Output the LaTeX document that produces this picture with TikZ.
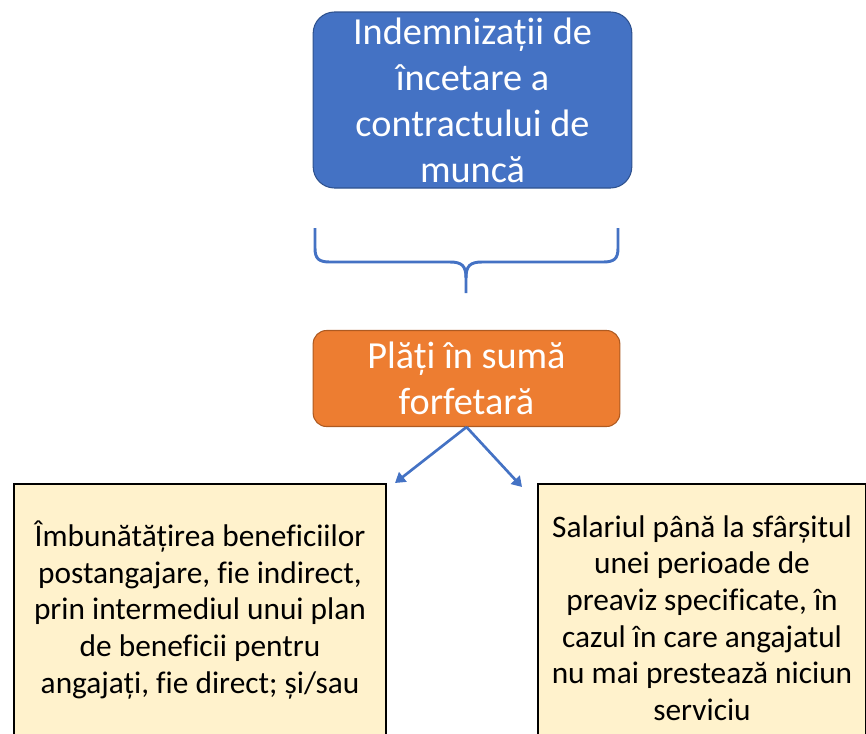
\documentclass[tikz,border=0pt]{standalone}
\usepackage{fontspec}
\setmainfont[Ligatures=NoCommon]{Carlito}
\usetikzlibrary{arrows.meta,positioning}
\definecolor{boxblue}{HTML}{4472C4}
\definecolor{boxblueline}{HTML}{2F528F}
\definecolor{boxorange}{HTML}{ED7D31}
\definecolor{boxorangeline}{HTML}{AE5A21}
\definecolor{boxcream}{HTML}{FFF2CC}

\begin{document}
\begin{tikzpicture}[x=0.75pt,y=-0.75pt,>={Triangle[width=9pt,length=7.5pt]},
  topbox/.style={draw,rounded corners=16pt,align=center,text=white,font=\fontsize{28.7}{34.5}\selectfont,line width=0.8pt},
  leafbox/.style={draw,line width=1.5pt,fill=boxcream,align=center,font=\fontsize{23.5}{27.4}\selectfont},
  link/.style={->,draw=boxblue,line width=2pt}]
\useasboundingbox (0,0) rectangle (866,733);
\clip (0,0) rectangle (866,733);
\node[topbox,fill=boxblue,draw=boxblueline,minimum width=239pt,minimum height=132pt] (indem) at (472.5,100) {Indemnizații de\\încetare a\\contractului de\\muncă};
\node[topbox,fill=boxorange,draw=boxorangeline,rounded corners=10pt,minimum width=230pt,minimum height=72pt] (plati) at (466.5,378.5) {Plăți în sumă\\forfetară};
\node[leafbox,minimum width=279pt,minimum height=189pt] (imbun) at (200,610) {Îmbunătățirea beneficiilor\\postangajare, fie indirect,\\prin intermediul unui plan\\de beneficii pentru\\angajați, fie direct; și/sau};
\node[leafbox,minimum width=246pt,minimum height=201pt] (salar) at (702,618) {Salariul până la sfârșitul\\unei perioade de\\preaviz specificate, în\\cazul în care angajatul\\nu mai prestează niciun\\serviciu};
% brace under the blue box
\draw[boxblue,line width=2.2pt] (315,228) -- (315,248) .. controls (315,259) and (319,262) .. (330,262) -- (450,262)
  .. controls (462,262) and (466,266) .. (466,278) -- (466,293);
\draw[boxblue,line width=2.2pt] (618,228) -- (618,248) .. controls (618,259) and (614,262) .. (603,262) -- (482,262)
  .. controls (470,262) and (466,266) .. (466,278);
\coordinate (tipl) at (395,483);
\coordinate (tipr) at (522,487);
\draw[link] (plati.south) -- (tipl);
\draw[link] (plati.south) -- (tipr);
\end{tikzpicture}
\end{document}
